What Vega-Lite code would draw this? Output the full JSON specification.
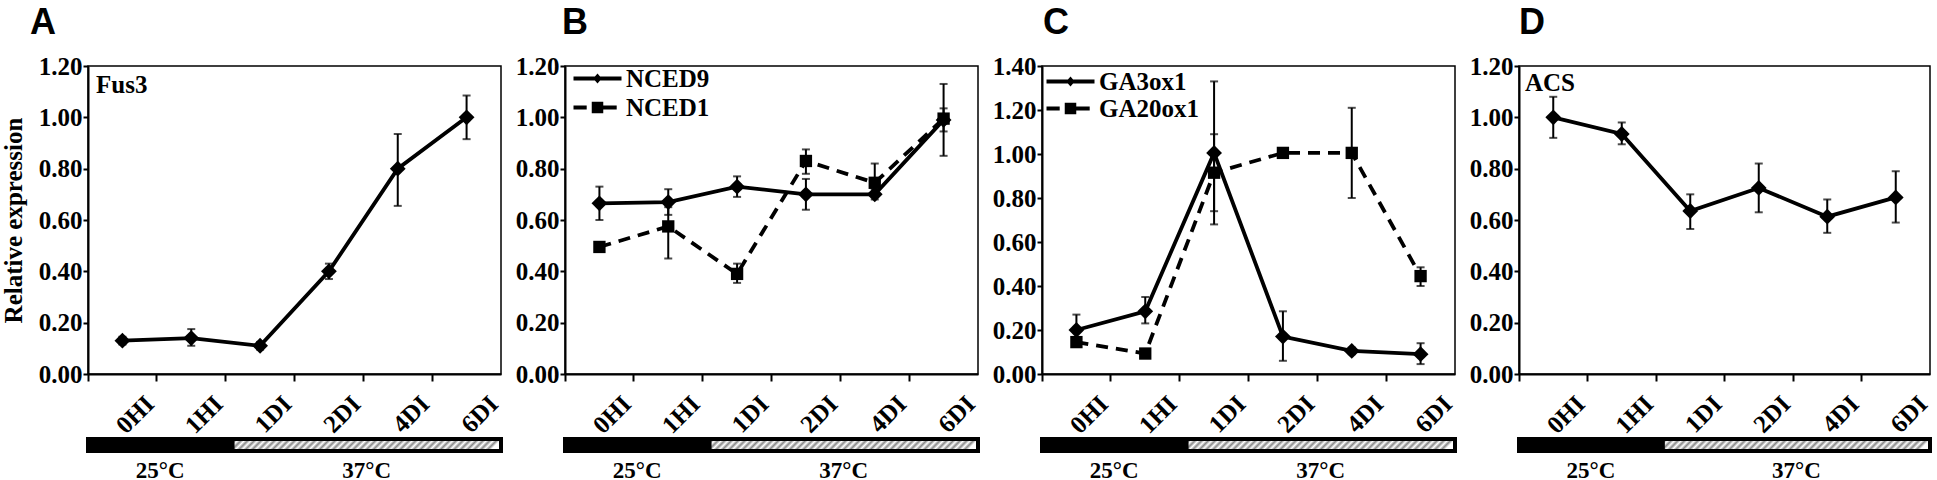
{
  "$schema": "https://vega.github.io/schema/vega-lite/v6.json",
  "padding": {"left": 0, "top": 4, "right": 0, "bottom": 0},
  "background": "white",
  "spacing": 10,
  "resolve": {"scale": {"shape": "independent"}, "legend": {"shape": "independent"}},
  "datasets": {
    "A": [
      {"time": "0HI", "gene": "Fus3", "value": 0.13, "lo": 0.115, "hi": 0.145},
      {"time": "1HI", "gene": "Fus3", "value": 0.14, "lo": 0.11, "hi": 0.175},
      {"time": "1DI", "gene": "Fus3", "value": 0.11, "lo": 0.095, "hi": 0.125},
      {"time": "2DI", "gene": "Fus3", "value": 0.40, "lo": 0.37, "hi": 0.43},
      {"time": "4DI", "gene": "Fus3", "value": 0.80, "lo": 0.655, "hi": 0.935},
      {"time": "6DI", "gene": "Fus3", "value": 1.00, "lo": 0.915, "hi": 1.085}
    ],
    "B": [
      {"time": "0HI", "gene": "NCED9", "value": 0.665, "lo": 0.60, "hi": 0.73},
      {"time": "1HI", "gene": "NCED9", "value": 0.67, "lo": 0.62, "hi": 0.72},
      {"time": "1DI", "gene": "NCED9", "value": 0.73, "lo": 0.69, "hi": 0.77},
      {"time": "2DI", "gene": "NCED9", "value": 0.70, "lo": 0.64, "hi": 0.76},
      {"time": "4DI", "gene": "NCED9", "value": 0.70, "lo": 0.68, "hi": 0.72},
      {"time": "6DI", "gene": "NCED9", "value": 0.99, "lo": 0.85, "hi": 1.13},
      {"time": "0HI", "gene": "NCED1", "value": 0.495, "lo": 0.48, "hi": 0.51},
      {"time": "1HI", "gene": "NCED1", "value": 0.575, "lo": 0.45, "hi": 0.65},
      {"time": "1DI", "gene": "NCED1", "value": 0.39, "lo": 0.355, "hi": 0.43},
      {"time": "2DI", "gene": "NCED1", "value": 0.83, "lo": 0.78, "hi": 0.875},
      {"time": "4DI", "gene": "NCED1", "value": 0.745, "lo": 0.70, "hi": 0.82},
      {"time": "6DI", "gene": "NCED1", "value": 0.995, "lo": 0.945, "hi": 1.035}
    ],
    "C": [
      {"time": "0HI", "gene": "GA3ox1", "value": 0.20, "lo": 0.13, "hi": 0.27},
      {"time": "1HI", "gene": "GA3ox1", "value": 0.285, "lo": 0.23, "hi": 0.35},
      {"time": "1DI", "gene": "GA3ox1", "value": 1.005, "lo": 0.68, "hi": 1.33},
      {"time": "2DI", "gene": "GA3ox1", "value": 0.17, "lo": 0.06, "hi": 0.285},
      {"time": "4DI", "gene": "GA3ox1", "value": 0.105, "lo": 0.09, "hi": 0.12},
      {"time": "6DI", "gene": "GA3ox1", "value": 0.09, "lo": 0.045, "hi": 0.14},
      {"time": "0HI", "gene": "GA20ox1", "value": 0.145, "lo": 0.13, "hi": 0.16},
      {"time": "1HI", "gene": "GA20ox1", "value": 0.093, "lo": 0.08, "hi": 0.105},
      {"time": "1DI", "gene": "GA20ox1", "value": 0.915, "lo": 0.74, "hi": 1.09},
      {"time": "2DI", "gene": "GA20ox1", "value": 1.005, "lo": 0.985, "hi": 1.025},
      {"time": "4DI", "gene": "GA20ox1", "value": 1.005, "lo": 0.80, "hi": 1.21},
      {"time": "6DI", "gene": "GA20ox1", "value": 0.445, "lo": 0.40, "hi": 0.485}
    ],
    "D": [
      {"time": "0HI", "gene": "ACS", "value": 1.00, "lo": 0.92, "hi": 1.08},
      {"time": "1HI", "gene": "ACS", "value": 0.935, "lo": 0.895, "hi": 0.98},
      {"time": "1DI", "gene": "ACS", "value": 0.635, "lo": 0.565, "hi": 0.70},
      {"time": "2DI", "gene": "ACS", "value": 0.725, "lo": 0.63, "hi": 0.82},
      {"time": "4DI", "gene": "ACS", "value": 0.613, "lo": 0.55, "hi": 0.68},
      {"time": "6DI", "gene": "ACS", "value": 0.688, "lo": 0.59, "hi": 0.79}
    ],
    "strip": [
      {"period": "25°C", "start": 0, "end": 2.1, "mid": 1.05},
      {"period": "37°C", "start": 2.1, "end": 6, "mid": 4.05}
    ]
  },
  "hconcat": [
    {
      "spacing": -5,
      "vconcat": [
        {
          "width": 413, "height": 308,
          "title": {"text": "A", "dx": -58},
          "data": {"name": "A"},
          "encoding": {"x": {"field": "time", "type": "nominal", "sort": ["0HI","1HI","1DI","2DI","4DI","6DI"], "scale": {"paddingInner": 0, "paddingOuter": 0}, "axis": {"title": null, "labelAngle": -45, "labelAlign": "right", "labelBaseline": "top", "bandPosition": 0, "labelOffset": 19, "labelPadding": 10, "tickSize": 7}}},
          "layer": [
            {"mark": {"type": "errorbar", "ticks": true, "size": 8, "thickness": 2, "color": "black"}, "encoding": {"y": {"field": "lo", "type": "quantitative", "title": "Relative expression", "scale": {"domain": [0, 1.2], "nice": false}, "axis": {"values": [0, 0.2, 0.4, 0.6, 0.8, 1, 1.2], "format": ".2f", "tickSize": 5, "labelPadding": 1, "titlePadding": 12}}, "y2": {"field": "hi"}}},
            {"mark": {"type": "line", "color": "black", "strokeWidth": 3.8}, "encoding": {"y": {"field": "value", "type": "quantitative", "title": "Relative expression"}}},
            {"mark": {"type": "point", "filled": true, "color": "black", "opacity": 1, "size": 250}, "encoding": {"y": {"field": "value", "type": "quantitative", "title": "Relative expression"}, "shape": {"field": "gene", "type": "nominal", "scale": {"domain": ["Fus3"], "range": ["diamond"]}, "legend": {"orient": "none", "legendX": -17, "legendY": 6, "title": null, "padding": 0, "symbolSize": 0, "symbolOpacity": 0, "symbolStrokeWidth": 0, "labelOffset": 0}}}}
          ]
        },
        {
          "width": 413, "height": 12,
          "view": {"stroke": null},
          "data": {"name": "strip"},
          "layer": [
            {"transform": [{"filter": "datum.period === '25°C'"}], "mark": {"type": "rect", "fill": "black", "stroke": "black", "strokeWidth": 4}, "encoding": {"x": {"field": "start", "type": "quantitative", "scale": {"domain": [0, 6], "nice": false, "zero": false}, "axis": null}, "x2": {"field": "end"}}},
            {"transform": [{"filter": "datum.period === '37°C'"}], "mark": {"type": "rect", "stroke": "black", "strokeWidth": 4, "fill": {"gradient": "linear", "x1": 0, "y1": 0, "x2": 1, "y2": 0.0447, "stops": [{"offset":0,"color":"#fff"},{"offset":0.0125,"color":"#888"},{"offset":0.025,"color":"#fff"},{"offset":0.0375,"color":"#888"},{"offset":0.05,"color":"#fff"},{"offset":0.0625,"color":"#888"},{"offset":0.075,"color":"#fff"},{"offset":0.0875,"color":"#888"},{"offset":0.1,"color":"#fff"},{"offset":0.1125,"color":"#888"},{"offset":0.125,"color":"#fff"},{"offset":0.1375,"color":"#888"},{"offset":0.15,"color":"#fff"},{"offset":0.1625,"color":"#888"},{"offset":0.175,"color":"#fff"},{"offset":0.1875,"color":"#888"},{"offset":0.2,"color":"#fff"},{"offset":0.2125,"color":"#888"},{"offset":0.225,"color":"#fff"},{"offset":0.2375,"color":"#888"},{"offset":0.25,"color":"#fff"},{"offset":0.2625,"color":"#888"},{"offset":0.275,"color":"#fff"},{"offset":0.2875,"color":"#888"},{"offset":0.3,"color":"#fff"},{"offset":0.3125,"color":"#888"},{"offset":0.325,"color":"#fff"},{"offset":0.3375,"color":"#888"},{"offset":0.35,"color":"#fff"},{"offset":0.3625,"color":"#888"},{"offset":0.375,"color":"#fff"},{"offset":0.3875,"color":"#888"},{"offset":0.4,"color":"#fff"},{"offset":0.4125,"color":"#888"},{"offset":0.425,"color":"#fff"},{"offset":0.4375,"color":"#888"},{"offset":0.45,"color":"#fff"},{"offset":0.4625,"color":"#888"},{"offset":0.475,"color":"#fff"},{"offset":0.4875,"color":"#888"},{"offset":0.5,"color":"#fff"},{"offset":0.5125,"color":"#888"},{"offset":0.525,"color":"#fff"},{"offset":0.5375,"color":"#888"},{"offset":0.55,"color":"#fff"},{"offset":0.5625,"color":"#888"},{"offset":0.575,"color":"#fff"},{"offset":0.5875,"color":"#888"},{"offset":0.6,"color":"#fff"},{"offset":0.6125,"color":"#888"},{"offset":0.625,"color":"#fff"},{"offset":0.6375,"color":"#888"},{"offset":0.65,"color":"#fff"},{"offset":0.6625,"color":"#888"},{"offset":0.675,"color":"#fff"},{"offset":0.6875,"color":"#888"},{"offset":0.7,"color":"#fff"},{"offset":0.7125,"color":"#888"},{"offset":0.725,"color":"#fff"},{"offset":0.7375,"color":"#888"},{"offset":0.75,"color":"#fff"},{"offset":0.7625,"color":"#888"},{"offset":0.775,"color":"#fff"},{"offset":0.7875,"color":"#888"},{"offset":0.8,"color":"#fff"},{"offset":0.8125,"color":"#888"},{"offset":0.825,"color":"#fff"},{"offset":0.8375,"color":"#888"},{"offset":0.85,"color":"#fff"},{"offset":0.8625,"color":"#888"},{"offset":0.875,"color":"#fff"},{"offset":0.8875,"color":"#888"},{"offset":0.9,"color":"#fff"},{"offset":0.9125,"color":"#888"},{"offset":0.925,"color":"#fff"},{"offset":0.9375,"color":"#888"},{"offset":0.95,"color":"#fff"},{"offset":0.9625,"color":"#888"},{"offset":0.975,"color":"#fff"},{"offset":0.9875,"color":"#888"},{"offset":1,"color":"#fff"}]}}, "encoding": {"x": {"field": "start", "type": "quantitative", "axis": null}, "x2": {"field": "end"}}},
            {"mark": {"type": "text", "font": "Liberation Serif", "fontWeight": "bold", "fontSize": 23, "baseline": "alphabetic", "dy": 33, "color": "black"}, "encoding": {"x": {"field": "mid", "type": "quantitative", "axis": null}, "text": {"field": "period"}}}
          ]
        }
      ]
    },
    {
      "spacing": -5,
      "vconcat": [
        {
          "width": 413, "height": 308,
          "title": {"text": "B", "dx": -3},
          "data": {"name": "B"},
          "resolve": {"scale": {"shape": "independent"}, "legend": {"shape": "independent"}},
          "encoding": {"x": {"field": "time", "type": "nominal", "sort": ["0HI","1HI","1DI","2DI","4DI","6DI"], "scale": {"paddingInner": 0, "paddingOuter": 0}, "axis": {"title": null, "labelAngle": -45, "labelAlign": "right", "labelBaseline": "top", "bandPosition": 0, "labelOffset": 19, "labelPadding": 10, "tickSize": 7}}},
          "layer": [
            {"mark": {"type": "errorbar", "ticks": true, "size": 8, "thickness": 2, "color": "black"}, "encoding": {"y": {"field": "lo", "type": "quantitative", "title": null, "scale": {"domain": [0, 1.2], "nice": false}, "axis": {"values": [0, 0.2, 0.4, 0.6, 0.8, 1, 1.2], "format": ".2f", "tickSize": 5, "labelPadding": 1}}, "y2": {"field": "hi"}, "detail": {"field": "gene"}}},
            {"transform": [{"filter": "datum.gene === 'NCED9'"}], "mark": {"type": "line", "color": "black", "strokeWidth": 3.8}, "encoding": {"y": {"field": "value", "type": "quantitative", "title": null}}},
            {"transform": [{"filter": "datum.gene === 'NCED1'"}], "mark": {"type": "line", "color": "black", "strokeWidth": 3.8, "strokeDash": [12, 8]}, "encoding": {"y": {"field": "value", "type": "quantitative", "title": null}}},
            {"mark": {"type": "point", "filled": true, "color": "black", "opacity": 1, "size": 250}, "encoding": {"y": {"field": "value", "type": "quantitative", "title": null}, "shape": {"field": "gene", "type": "nominal", "scale": {"domain": ["NCED9", "NCED1"], "range": ["diamond", "M-0.78,-0.78H0.78V0.78H-0.78Z"]}, "legend": null}}},
            {"transform": [{"filter": "false"}], "mark": {"type": "point", "filled": true, "color": "black", "opacity": 1, "size": 576, "strokeWidth": 0}, "encoding": {"y": {"field": "value", "type": "quantitative", "title": null}, "shape": {"field": "gene", "type": "nominal", "scale": {"domain": ["NCED9", "NCED1"], "range": ["M-1,-0.17H3V0.17H-1Z M1,-0.42L1.36,0L1,0.42L0.64,0Z", "M-1,-0.17H0.1V0.17H-1Z M0.52,-0.48H1.48V0.48H0.52Z M1.48,-0.17H2.6V0.17H1.48Z"]}, "legend": {"orient": "none", "legendX": 8, "legendY": 0, "title": null, "padding": 0, "symbolSize": 576, "symbolStrokeWidth": 0, "symbolFillColor": "black", "symbolOpacity": 1, "labelOffset": 28, "rowPadding": 3}}}}
          ]
        },
        {
          "width": 413, "height": 12,
          "view": {"stroke": null},
          "data": {"name": "strip"},
          "layer": [
            {"transform": [{"filter": "datum.period === '25°C'"}], "mark": {"type": "rect", "fill": "black", "stroke": "black", "strokeWidth": 4}, "encoding": {"x": {"field": "start", "type": "quantitative", "scale": {"domain": [0, 6], "nice": false, "zero": false}, "axis": null}, "x2": {"field": "end"}}},
            {"transform": [{"filter": "datum.period === '37°C'"}], "mark": {"type": "rect", "stroke": "black", "strokeWidth": 4, "fill": {"gradient": "linear", "x1": 0, "y1": 0, "x2": 1, "y2": 0.0447, "stops": [{"offset":0,"color":"#fff"},{"offset":0.0125,"color":"#888"},{"offset":0.025,"color":"#fff"},{"offset":0.0375,"color":"#888"},{"offset":0.05,"color":"#fff"},{"offset":0.0625,"color":"#888"},{"offset":0.075,"color":"#fff"},{"offset":0.0875,"color":"#888"},{"offset":0.1,"color":"#fff"},{"offset":0.1125,"color":"#888"},{"offset":0.125,"color":"#fff"},{"offset":0.1375,"color":"#888"},{"offset":0.15,"color":"#fff"},{"offset":0.1625,"color":"#888"},{"offset":0.175,"color":"#fff"},{"offset":0.1875,"color":"#888"},{"offset":0.2,"color":"#fff"},{"offset":0.2125,"color":"#888"},{"offset":0.225,"color":"#fff"},{"offset":0.2375,"color":"#888"},{"offset":0.25,"color":"#fff"},{"offset":0.2625,"color":"#888"},{"offset":0.275,"color":"#fff"},{"offset":0.2875,"color":"#888"},{"offset":0.3,"color":"#fff"},{"offset":0.3125,"color":"#888"},{"offset":0.325,"color":"#fff"},{"offset":0.3375,"color":"#888"},{"offset":0.35,"color":"#fff"},{"offset":0.3625,"color":"#888"},{"offset":0.375,"color":"#fff"},{"offset":0.3875,"color":"#888"},{"offset":0.4,"color":"#fff"},{"offset":0.4125,"color":"#888"},{"offset":0.425,"color":"#fff"},{"offset":0.4375,"color":"#888"},{"offset":0.45,"color":"#fff"},{"offset":0.4625,"color":"#888"},{"offset":0.475,"color":"#fff"},{"offset":0.4875,"color":"#888"},{"offset":0.5,"color":"#fff"},{"offset":0.5125,"color":"#888"},{"offset":0.525,"color":"#fff"},{"offset":0.5375,"color":"#888"},{"offset":0.55,"color":"#fff"},{"offset":0.5625,"color":"#888"},{"offset":0.575,"color":"#fff"},{"offset":0.5875,"color":"#888"},{"offset":0.6,"color":"#fff"},{"offset":0.6125,"color":"#888"},{"offset":0.625,"color":"#fff"},{"offset":0.6375,"color":"#888"},{"offset":0.65,"color":"#fff"},{"offset":0.6625,"color":"#888"},{"offset":0.675,"color":"#fff"},{"offset":0.6875,"color":"#888"},{"offset":0.7,"color":"#fff"},{"offset":0.7125,"color":"#888"},{"offset":0.725,"color":"#fff"},{"offset":0.7375,"color":"#888"},{"offset":0.75,"color":"#fff"},{"offset":0.7625,"color":"#888"},{"offset":0.775,"color":"#fff"},{"offset":0.7875,"color":"#888"},{"offset":0.8,"color":"#fff"},{"offset":0.8125,"color":"#888"},{"offset":0.825,"color":"#fff"},{"offset":0.8375,"color":"#888"},{"offset":0.85,"color":"#fff"},{"offset":0.8625,"color":"#888"},{"offset":0.875,"color":"#fff"},{"offset":0.8875,"color":"#888"},{"offset":0.9,"color":"#fff"},{"offset":0.9125,"color":"#888"},{"offset":0.925,"color":"#fff"},{"offset":0.9375,"color":"#888"},{"offset":0.95,"color":"#fff"},{"offset":0.9625,"color":"#888"},{"offset":0.975,"color":"#fff"},{"offset":0.9875,"color":"#888"},{"offset":1,"color":"#fff"}]}}, "encoding": {"x": {"field": "start", "type": "quantitative", "axis": null}, "x2": {"field": "end"}}},
            {"mark": {"type": "text", "font": "Liberation Serif", "fontWeight": "bold", "fontSize": 23, "baseline": "alphabetic", "dy": 33, "color": "black"}, "encoding": {"x": {"field": "mid", "type": "quantitative", "axis": null}, "text": {"field": "period"}}}
          ]
        }
      ]
    },
    {
      "spacing": -5,
      "vconcat": [
        {
          "width": 413, "height": 308,
          "title": {"text": "C", "dx": 1},
          "data": {"name": "C"},
          "resolve": {"scale": {"shape": "independent"}, "legend": {"shape": "independent"}},
          "encoding": {"x": {"field": "time", "type": "nominal", "sort": ["0HI","1HI","1DI","2DI","4DI","6DI"], "scale": {"paddingInner": 0, "paddingOuter": 0}, "axis": {"title": null, "labelAngle": -45, "labelAlign": "right", "labelBaseline": "top", "bandPosition": 0, "labelOffset": 19, "labelPadding": 10, "tickSize": 7}}},
          "layer": [
            {"mark": {"type": "errorbar", "ticks": true, "size": 8, "thickness": 2, "color": "black"}, "encoding": {"y": {"field": "lo", "type": "quantitative", "title": null, "scale": {"domain": [0, 1.4], "nice": false}, "axis": {"values": [0, 0.2, 0.4, 0.6, 0.8, 1, 1.2, 1.4], "format": ".2f", "tickSize": 5, "labelPadding": 1}}, "y2": {"field": "hi"}, "detail": {"field": "gene"}}},
            {"transform": [{"filter": "datum.gene === 'GA3ox1'"}], "mark": {"type": "line", "color": "black", "strokeWidth": 3.8}, "encoding": {"y": {"field": "value", "type": "quantitative", "title": null}}},
            {"transform": [{"filter": "datum.gene === 'GA20ox1'"}], "mark": {"type": "line", "color": "black", "strokeWidth": 3.8, "strokeDash": [12, 8]}, "encoding": {"y": {"field": "value", "type": "quantitative", "title": null}}},
            {"mark": {"type": "point", "filled": true, "color": "black", "opacity": 1, "size": 250}, "encoding": {"y": {"field": "value", "type": "quantitative", "title": null}, "shape": {"field": "gene", "type": "nominal", "scale": {"domain": ["GA3ox1", "GA20ox1"], "range": ["diamond", "M-0.78,-0.78H0.78V0.78H-0.78Z"]}, "legend": null}}},
            {"transform": [{"filter": "false"}], "mark": {"type": "point", "filled": true, "color": "black", "opacity": 1, "size": 576, "strokeWidth": 0}, "encoding": {"y": {"field": "value", "type": "quantitative", "title": null}, "shape": {"field": "gene", "type": "nominal", "scale": {"domain": ["GA3ox1", "GA20ox1"], "range": ["M-1,-0.17H3V0.17H-1Z M1,-0.42L1.36,0L1,0.42L0.64,0Z", "M-1,-0.17H0.1V0.17H-1Z M0.52,-0.48H1.48V0.48H0.52Z M1.48,-0.17H2.6V0.17H1.48Z"]}, "legend": {"orient": "none", "legendX": 4, "legendY": 3, "title": null, "padding": 0, "symbolSize": 576, "symbolStrokeWidth": 0, "symbolFillColor": "black", "symbolOpacity": 1, "labelOffset": 28, "rowPadding": 1}}}}
          ]
        },
        {
          "width": 413, "height": 12,
          "view": {"stroke": null},
          "data": {"name": "strip"},
          "layer": [
            {"transform": [{"filter": "datum.period === '25°C'"}], "mark": {"type": "rect", "fill": "black", "stroke": "black", "strokeWidth": 4}, "encoding": {"x": {"field": "start", "type": "quantitative", "scale": {"domain": [0, 6], "nice": false, "zero": false}, "axis": null}, "x2": {"field": "end"}}},
            {"transform": [{"filter": "datum.period === '37°C'"}], "mark": {"type": "rect", "stroke": "black", "strokeWidth": 4, "fill": {"gradient": "linear", "x1": 0, "y1": 0, "x2": 1, "y2": 0.0447, "stops": [{"offset":0,"color":"#fff"},{"offset":0.0125,"color":"#888"},{"offset":0.025,"color":"#fff"},{"offset":0.0375,"color":"#888"},{"offset":0.05,"color":"#fff"},{"offset":0.0625,"color":"#888"},{"offset":0.075,"color":"#fff"},{"offset":0.0875,"color":"#888"},{"offset":0.1,"color":"#fff"},{"offset":0.1125,"color":"#888"},{"offset":0.125,"color":"#fff"},{"offset":0.1375,"color":"#888"},{"offset":0.15,"color":"#fff"},{"offset":0.1625,"color":"#888"},{"offset":0.175,"color":"#fff"},{"offset":0.1875,"color":"#888"},{"offset":0.2,"color":"#fff"},{"offset":0.2125,"color":"#888"},{"offset":0.225,"color":"#fff"},{"offset":0.2375,"color":"#888"},{"offset":0.25,"color":"#fff"},{"offset":0.2625,"color":"#888"},{"offset":0.275,"color":"#fff"},{"offset":0.2875,"color":"#888"},{"offset":0.3,"color":"#fff"},{"offset":0.3125,"color":"#888"},{"offset":0.325,"color":"#fff"},{"offset":0.3375,"color":"#888"},{"offset":0.35,"color":"#fff"},{"offset":0.3625,"color":"#888"},{"offset":0.375,"color":"#fff"},{"offset":0.3875,"color":"#888"},{"offset":0.4,"color":"#fff"},{"offset":0.4125,"color":"#888"},{"offset":0.425,"color":"#fff"},{"offset":0.4375,"color":"#888"},{"offset":0.45,"color":"#fff"},{"offset":0.4625,"color":"#888"},{"offset":0.475,"color":"#fff"},{"offset":0.4875,"color":"#888"},{"offset":0.5,"color":"#fff"},{"offset":0.5125,"color":"#888"},{"offset":0.525,"color":"#fff"},{"offset":0.5375,"color":"#888"},{"offset":0.55,"color":"#fff"},{"offset":0.5625,"color":"#888"},{"offset":0.575,"color":"#fff"},{"offset":0.5875,"color":"#888"},{"offset":0.6,"color":"#fff"},{"offset":0.6125,"color":"#888"},{"offset":0.625,"color":"#fff"},{"offset":0.6375,"color":"#888"},{"offset":0.65,"color":"#fff"},{"offset":0.6625,"color":"#888"},{"offset":0.675,"color":"#fff"},{"offset":0.6875,"color":"#888"},{"offset":0.7,"color":"#fff"},{"offset":0.7125,"color":"#888"},{"offset":0.725,"color":"#fff"},{"offset":0.7375,"color":"#888"},{"offset":0.75,"color":"#fff"},{"offset":0.7625,"color":"#888"},{"offset":0.775,"color":"#fff"},{"offset":0.7875,"color":"#888"},{"offset":0.8,"color":"#fff"},{"offset":0.8125,"color":"#888"},{"offset":0.825,"color":"#fff"},{"offset":0.8375,"color":"#888"},{"offset":0.85,"color":"#fff"},{"offset":0.8625,"color":"#888"},{"offset":0.875,"color":"#fff"},{"offset":0.8875,"color":"#888"},{"offset":0.9,"color":"#fff"},{"offset":0.9125,"color":"#888"},{"offset":0.925,"color":"#fff"},{"offset":0.9375,"color":"#888"},{"offset":0.95,"color":"#fff"},{"offset":0.9625,"color":"#888"},{"offset":0.975,"color":"#fff"},{"offset":0.9875,"color":"#888"},{"offset":1,"color":"#fff"}]}}, "encoding": {"x": {"field": "start", "type": "quantitative", "axis": null}, "x2": {"field": "end"}}},
            {"mark": {"type": "text", "font": "Liberation Serif", "fontWeight": "bold", "fontSize": 23, "baseline": "alphabetic", "dy": 33, "color": "black"}, "encoding": {"x": {"field": "mid", "type": "quantitative", "axis": null}, "text": {"field": "period"}}}
          ]
        }
      ]
    },
    {
      "spacing": -5,
      "vconcat": [
        {
          "width": 411, "height": 308,
          "title": {"text": "D", "dx": 0},
          "data": {"name": "D"},
          "encoding": {"x": {"field": "time", "type": "nominal", "sort": ["0HI","1HI","1DI","2DI","4DI","6DI"], "scale": {"paddingInner": 0, "paddingOuter": 0}, "axis": {"title": null, "labelAngle": -45, "labelAlign": "right", "labelBaseline": "top", "bandPosition": 0, "labelOffset": 19, "labelPadding": 10, "tickSize": 7}}},
          "layer": [
            {"mark": {"type": "errorbar", "ticks": true, "size": 8, "thickness": 2, "color": "black"}, "encoding": {"y": {"field": "lo", "type": "quantitative", "title": null, "scale": {"domain": [0, 1.2], "nice": false}, "axis": {"values": [0, 0.2, 0.4, 0.6, 0.8, 1, 1.2], "format": ".2f", "tickSize": 5, "labelPadding": 1}}, "y2": {"field": "hi"}}},
            {"mark": {"type": "line", "color": "black", "strokeWidth": 3.8}, "encoding": {"y": {"field": "value", "type": "quantitative", "title": null}}},
            {"mark": {"type": "point", "filled": true, "color": "black", "opacity": 1, "size": 250}, "encoding": {"y": {"field": "value", "type": "quantitative", "title": null}, "shape": {"field": "gene", "type": "nominal", "scale": {"domain": ["ACS"], "range": ["diamond"]}, "legend": {"orient": "none", "legendX": -19, "legendY": 4, "title": null, "padding": 0, "symbolSize": 0, "symbolOpacity": 0, "symbolStrokeWidth": 0, "labelOffset": 0}}}}
          ]
        },
        {
          "width": 411, "height": 12,
          "view": {"stroke": null},
          "data": {"name": "strip"},
          "layer": [
            {"transform": [{"filter": "datum.period === '25°C'"}], "mark": {"type": "rect", "fill": "black", "stroke": "black", "strokeWidth": 4}, "encoding": {"x": {"field": "start", "type": "quantitative", "scale": {"domain": [0, 6], "nice": false, "zero": false}, "axis": null}, "x2": {"field": "end"}}},
            {"transform": [{"filter": "datum.period === '37°C'"}], "mark": {"type": "rect", "stroke": "black", "strokeWidth": 4, "fill": {"gradient": "linear", "x1": 0, "y1": 0, "x2": 1, "y2": 0.0447, "stops": [{"offset":0,"color":"#fff"},{"offset":0.0125,"color":"#888"},{"offset":0.025,"color":"#fff"},{"offset":0.0375,"color":"#888"},{"offset":0.05,"color":"#fff"},{"offset":0.0625,"color":"#888"},{"offset":0.075,"color":"#fff"},{"offset":0.0875,"color":"#888"},{"offset":0.1,"color":"#fff"},{"offset":0.1125,"color":"#888"},{"offset":0.125,"color":"#fff"},{"offset":0.1375,"color":"#888"},{"offset":0.15,"color":"#fff"},{"offset":0.1625,"color":"#888"},{"offset":0.175,"color":"#fff"},{"offset":0.1875,"color":"#888"},{"offset":0.2,"color":"#fff"},{"offset":0.2125,"color":"#888"},{"offset":0.225,"color":"#fff"},{"offset":0.2375,"color":"#888"},{"offset":0.25,"color":"#fff"},{"offset":0.2625,"color":"#888"},{"offset":0.275,"color":"#fff"},{"offset":0.2875,"color":"#888"},{"offset":0.3,"color":"#fff"},{"offset":0.3125,"color":"#888"},{"offset":0.325,"color":"#fff"},{"offset":0.3375,"color":"#888"},{"offset":0.35,"color":"#fff"},{"offset":0.3625,"color":"#888"},{"offset":0.375,"color":"#fff"},{"offset":0.3875,"color":"#888"},{"offset":0.4,"color":"#fff"},{"offset":0.4125,"color":"#888"},{"offset":0.425,"color":"#fff"},{"offset":0.4375,"color":"#888"},{"offset":0.45,"color":"#fff"},{"offset":0.4625,"color":"#888"},{"offset":0.475,"color":"#fff"},{"offset":0.4875,"color":"#888"},{"offset":0.5,"color":"#fff"},{"offset":0.5125,"color":"#888"},{"offset":0.525,"color":"#fff"},{"offset":0.5375,"color":"#888"},{"offset":0.55,"color":"#fff"},{"offset":0.5625,"color":"#888"},{"offset":0.575,"color":"#fff"},{"offset":0.5875,"color":"#888"},{"offset":0.6,"color":"#fff"},{"offset":0.6125,"color":"#888"},{"offset":0.625,"color":"#fff"},{"offset":0.6375,"color":"#888"},{"offset":0.65,"color":"#fff"},{"offset":0.6625,"color":"#888"},{"offset":0.675,"color":"#fff"},{"offset":0.6875,"color":"#888"},{"offset":0.7,"color":"#fff"},{"offset":0.7125,"color":"#888"},{"offset":0.725,"color":"#fff"},{"offset":0.7375,"color":"#888"},{"offset":0.75,"color":"#fff"},{"offset":0.7625,"color":"#888"},{"offset":0.775,"color":"#fff"},{"offset":0.7875,"color":"#888"},{"offset":0.8,"color":"#fff"},{"offset":0.8125,"color":"#888"},{"offset":0.825,"color":"#fff"},{"offset":0.8375,"color":"#888"},{"offset":0.85,"color":"#fff"},{"offset":0.8625,"color":"#888"},{"offset":0.875,"color":"#fff"},{"offset":0.8875,"color":"#888"},{"offset":0.9,"color":"#fff"},{"offset":0.9125,"color":"#888"},{"offset":0.925,"color":"#fff"},{"offset":0.9375,"color":"#888"},{"offset":0.95,"color":"#fff"},{"offset":0.9625,"color":"#888"},{"offset":0.975,"color":"#fff"},{"offset":0.9875,"color":"#888"},{"offset":1,"color":"#fff"}]}}, "encoding": {"x": {"field": "start", "type": "quantitative", "axis": null}, "x2": {"field": "end"}}},
            {"mark": {"type": "text", "font": "Liberation Serif", "fontWeight": "bold", "fontSize": 23, "baseline": "alphabetic", "dy": 33, "color": "black"}, "encoding": {"x": {"field": "mid", "type": "quantitative", "axis": null}, "text": {"field": "period"}}}
          ]
        }
      ]
    }
  ],
  "config": {
    "font": "Liberation Serif",
    "view": {"stroke": "black", "strokeWidth": 1.5},
    "axis": {"labelFont": "Liberation Serif", "labelFontWeight": "bold", "labelFontSize": 25, "labelColor": "black", "domainColor": "black", "domainWidth": 2, "tickColor": "black", "tickWidth": 2, "grid": false, "titleFont": "Liberation Serif", "titleFontWeight": "bold", "titleFontSize": 25, "titleColor": "black"},
    "legend": {"labelFont": "Liberation Serif", "labelFontWeight": "bold", "labelFontSize": 25, "labelColor": "black"},
    "title": {"font": "Liberation Sans", "fontWeight": "bold", "fontSize": 36, "color": "black", "anchor": "start", "frame": "group", "offset": 12}
  }
}
